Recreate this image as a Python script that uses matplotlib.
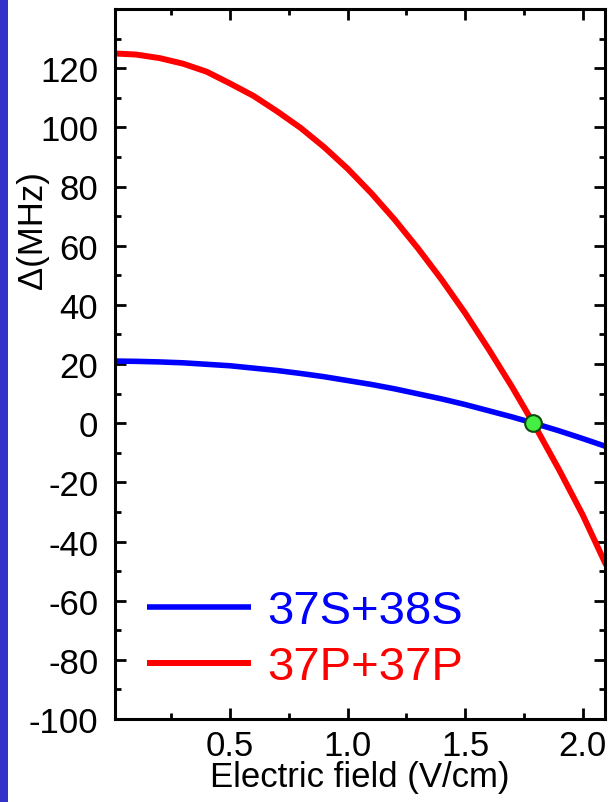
import matplotlib
matplotlib.use('Agg')
import matplotlib.pyplot as plt
from matplotlib.patches import Rectangle
from matplotlib.ticker import MultipleLocator

plt.rcParams['font.family'] = ['Liberation Sans', 'DejaVu Sans']
plt.rcParams['axes.unicode_minus'] = False

# values
field = [0.0, 0.1, 0.2, 0.3, 0.4, 0.5, 0.6, 0.7, 0.8, 0.9, 1.0,
         1.1, 1.2, 1.3, 1.4, 1.5, 1.6, 1.7, 1.8, 1.9, 2.0, 2.1]
delta_ss = [21.0, 20.9, 20.7, 20.4, 19.9, 19.4, 18.6, 17.8, 16.8, 15.7, 14.4,
            13.1, 11.6, 9.9, 8.2, 6.3, 4.2, 2.1, -0.2, -2.6, -5.2, -7.9]
delta_pp = [125.0, 124.6, 123.4, 121.5, 118.8, 114.8, 110.6, 105.4, 99.8, 93.3, 86.0,
            77.8, 68.8, 59.0, 48.5, 37.2, 25.0, 12.2, -1.4, -15.8, -31.0, -48.0]
labels = ['37S+38S', '37P+37P']
crossing = (1.79, 0.0)
xticks = [0.5, 1.0, 1.5, 2.0]
yticks = [-100, -80, -60, -40, -20, 0, 20, 40, 60, 80, 100, 120]

fig = plt.figure(figsize=(6.12, 8.03), dpi=100)
fig.patches.append(Rectangle((0, 0), 8 / 612, 1, transform=fig.transFigure,
                             facecolor='#3333CC', edgecolor='none', zorder=0))
ax = fig.add_axes([115 / 612, 1 - 720 / 803, 490 / 612, 710 / 803])

ax.plot(field, delta_ss, color='#0000FF', lw=4.0, label=labels[0], solid_capstyle='butt')
ax.plot(field, delta_pp, color='#FF0000', lw=4.3, label=labels[1], solid_capstyle='butt')
ax.plot(*crossing, 'o', ms=12, mfc='#44EE44', mec='#0B4A0B', mew=1.5, zorder=5)

ax.set_xlim(0.01, 2.095)
ax.set_ylim(-100, 140)
ax.xaxis.set_minor_locator(MultipleLocator(0.25))
ax.yaxis.set_minor_locator(MultipleLocator(10))
ax.set_xticks(xticks)
ax.set_xticklabels(['%.1f' % v for v in xticks])
ax.set_yticks(yticks)
ax.set_yticklabels([str(v) for v in yticks])

ax.tick_params(which='both', direction='in', top=True, right=True,
               width=2.0, colors='black', labelsize=25)
ax.tick_params(which='major', length=8)
ax.tick_params(which='minor', length=4)
ax.tick_params(axis='y', pad=12)
ax.tick_params(axis='x', pad=7)
for s in ax.spines.values():
    s.set_linewidth(2.2)

ax.set_xlabel('Electric field (V/cm)', fontsize=25, labelpad=-1)
ax.text(-0.169, 0.69, 'Δ(MHz)', transform=ax.transAxes, rotation=90,
        ha='center', va='center', fontsize=25)

ax.legend(loc='lower left', bbox_to_anchor=(0.065, 0.042), frameon=False,
          fontsize=34, handlelength=2.2, handletextpad=0.35, labelspacing=0.25,
          borderpad=0, borderaxespad=0, labelcolor='linecolor')

fig.savefig('out.png', dpi=100, facecolor='white')
